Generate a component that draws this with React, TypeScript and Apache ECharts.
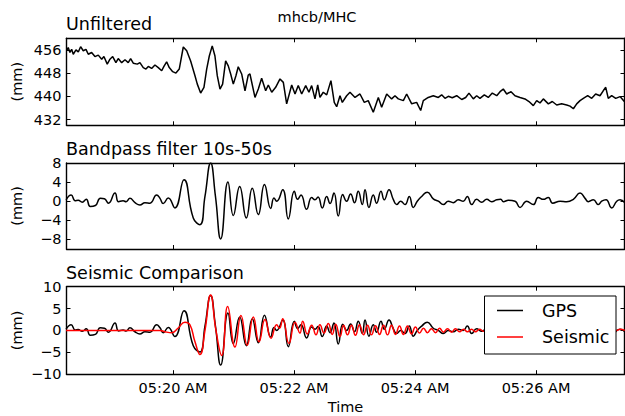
import React, { useEffect, useRef } from "react";
import * as echarts from "echarts";

// time axis: seconds after 05:00:00
const xMin = 1094.4;
const xMax = 1647.7;
const xTickValues = [1200, 1320, 1440, 1560];
const xTickLabels = ["05:20 AM", "05:22 AM", "05:24 AM", "05:26 AM"];

const topYTicks = [432, 440, 448, 456];
const topYRange = [430, 460];
const midYTicks = [-8, -4, 0, 4, 8];
const midYRange = [-10, 8];
const botYTicks = [-10, -5, 0, 5, 10];
const botYRange = [-10, 10];

const figureTitle = "mhcb/MHC";
const panelTitles = ["Unfiltered", "Bandpass filter 10s-50s", "Seismic Comparison"];
const yAxisName = "(mm)";
const xAxisName = "Time";
const legendNames = ["GPS", "Seismic"];

const unfilteredTime = [
  1094.5, 1096.1, 1097.8, 1099.5, 1101.1, 1103.8, 1106.1, 1108.4, 1111.0, 1113.7,
  1116.0, 1119.3, 1122.6, 1125.9, 1129.3, 1131.5, 1134.8, 1137.5, 1140.2, 1143.4,
  1145.7, 1149.1, 1152.4, 1155.6, 1158.0, 1160.6, 1164.6, 1167.2, 1170.5, 1173.2,
  1175.5, 1178.8, 1182.1, 1185.4, 1188.8, 1191.0, 1193.7, 1196.3, 1199.7, 1202.9,
  1206.2, 1210.2, 1213.6, 1217.5, 1221.8, 1224.1, 1227.4, 1230.7, 1233.4, 1236.0,
  1238.9, 1241.6, 1243.9, 1246.6, 1249.2, 1252.2, 1254.8, 1257.2, 1259.8, 1262.4,
  1264.7, 1268.1, 1271.4, 1274.6, 1276.3, 1281.3, 1284.6, 1287.9, 1291.9, 1294.5,
  1297.9, 1301.8, 1306.1, 1309.4, 1312.7, 1317.7, 1321.0, 1324.2, 1327.6, 1331.6,
  1334.8, 1337.5, 1340.8, 1343.5, 1345.7, 1349.0, 1352.4, 1356.6, 1359.9, 1362.3,
  1365.6, 1367.9, 1372.2, 1375.5, 1380.5, 1385.4, 1389.7, 1393.6, 1398.6, 1403.6,
  1406.9, 1411.9, 1416.8, 1420.1, 1423.4, 1428.4, 1431.7, 1436.7, 1441.6, 1445.6,
  1448.2, 1453.1, 1458.1, 1463.1, 1466.4, 1469.7, 1473.0, 1476.9, 1481.3, 1486.3,
  1490.2, 1493.5, 1497.8, 1501.1, 1504.4, 1508.7, 1512.6, 1516.6, 1521.0, 1524.3,
  1527.5, 1530.9, 1535.2, 1539.1, 1544.1, 1549.0, 1553.0, 1557.3, 1560.6, 1563.9,
  1567.2, 1572.2, 1576.1, 1580.5, 1585.4, 1590.4, 1593.7, 1597.0, 1600.3, 1603.6,
  1606.9, 1611.2, 1615.2, 1619.1, 1623.4, 1626.6, 1629.1, 1631.6, 1635.0, 1639.0,
  1643.3, 1647.5,
];
const unfilteredMm = [
  455.7, 456.8, 455.1, 456.2, 454.5, 456.0, 455.3, 457.1, 455.7, 456.2,
  454.5, 455.1, 453.7, 454.2, 452.8, 453.7, 451.1, 452.8, 453.7, 451.6,
  453.0, 451.6, 452.6, 451.6, 453.0, 451.4, 451.1, 451.6, 449.9, 449.4,
  450.3, 449.6, 450.8, 449.9, 448.8, 450.3, 451.9, 449.9, 448.5, 448.0,
  449.4, 457.0, 455.7, 452.2, 447.1, 444.2, 441.1, 443.1, 449.4, 453.9,
  457.4, 453.9, 447.1, 442.5, 444.2, 452.2, 450.5, 447.7, 444.2, 447.1,
  450.2, 447.7, 441.9, 447.3, 447.7, 439.6, 442.5, 446.2, 441.9, 443.9,
  441.4, 443.1, 446.0, 444.8, 437.4, 443.9, 440.8, 443.7, 440.8, 443.7,
  441.4, 443.7, 439.1, 443.9, 439.6, 441.4, 440.5, 445.4, 437.9, 436.4,
  440.2, 437.9, 440.2, 441.4, 439.6, 440.8, 437.9, 438.5, 434.5, 439.6,
  436.2, 440.8, 439.1, 440.2, 439.1, 438.5, 440.8, 437.4, 437.9, 435.1,
  438.5, 439.6, 440.2, 439.6, 440.5, 439.3, 440.0, 439.5, 440.2, 438.9,
  439.6, 441.1, 439.1, 440.2, 439.3, 440.5, 439.6, 441.1, 440.2, 441.6,
  442.5, 440.8, 441.6, 440.2, 439.6, 439.1, 438.2, 436.8, 438.5, 437.7,
  439.1, 437.4, 438.2, 437.0, 437.4, 437.0, 436.6, 435.7, 437.4, 438.5,
  439.3, 440.2, 439.3, 440.8, 440.2, 441.9, 443.1, 439.3, 440.2, 439.3,
  439.9, 438.2,
];

const bandpassTime = [
  1094, 1099, 1103, 1106, 1110, 1114, 1118, 1123, 1128, 1132,
  1136, 1142.5, 1146, 1150.5, 1153.5, 1157.3, 1162.3, 1167.2, 1172.2, 1177.2,
  1183.8, 1187.1, 1190.3, 1195.3, 1201.9, 1210.9, 1220.1, 1226.7, 1231.7, 1237.3,
  1242.1, 1247.3, 1254.5, 1259.8, 1266.1, 1272.7, 1278.6, 1284.6, 1290.7, 1296.9,
  1300.1, 1302.8, 1308.8, 1314.3, 1320.3, 1323.6, 1326.9, 1332.5, 1337.5, 1340.8,
  1343.8, 1348, 1352.4, 1355.7, 1359.6, 1363.9, 1368.3, 1372.2, 1376.1, 1380,
  1383.7, 1387.7, 1390.4, 1394.3, 1398.6, 1401.9, 1406.2, 1409.5, 1414.2, 1418.4,
  1421.8, 1425.8, 1430.1, 1434.3, 1438.3, 1442.2, 1446.6, 1452.1, 1458.1, 1463.1,
  1468, 1473, 1477.9, 1482.9, 1487.8, 1491.8, 1496.2, 1501.1, 1506.1, 1511.1,
  1516, 1521, 1525, 1527.6, 1532.6, 1539.2, 1544.1, 1550.7, 1557.3, 1562.2,
  1567.2, 1572.1, 1576.5, 1583.8, 1590.4, 1597, 1603.6, 1608.6, 1611.8, 1616.8,
  1621.8, 1625.1, 1629.4, 1635, 1640, 1643.3, 1648,
];
const bandpassMm = [
  0.3, 1.3, 0.1, 0.2, -0.2, 0.4, -1.1, -0.9, 0.6, 0.5,
  -0.4, 1.7, -0.1, 0.1, -0.1, 0.6, -0.3, -0.8, -0.3, -0.4,
  1.3, 0.6, -0.5, 0.7, -1.4, 4.5, -3.5, -4.9, 1.0, 8.0,
  1.0, -7.9, 4.0, -3.0, 3.1, -3.5, 2.7, -2.8, 3.5, -1.5,
  0.7, 0.0, 2.4, -3.7, 2.1, 0.4, 1.3, -1.7, 0.8, 0.3,
  0.9, -1.4, 1.0, -0.5, 1.7, -3.1, 1.4, 0.0, 1.5, -0.3,
  2.1, -0.7, 2.4, -1.3, 1.3, -0.4, 2.1, 0.3, 2.4, 0.4,
  -0.7, 0.0, -0.7, 1.0, -1.3, 0.0, 1.0, 1.9, 0.5, 0.0,
  -0.7, 0.0, -0.3, 0.3, 0.0, 1.0, -0.7, 0.4, -0.2, 0.4,
  -0.1, 0.3, 0.4, -0.1, 0.2, 0.0, -1.3, 0.0, -0.7, 0.8,
  0.4, 0.8, -0.4, 0.0, -0.1, 0.4, 1.7, 0.6, -0.1, 0.3,
  -0.7, 0.0, 0.3, -1.4, 0.0, 0.3, -0.3,
];

const seismicTime = [
  1094, 1187.1, 1192.0, 1199.0, 1204.9, 1211.9, 1216.8, 1221.8, 1226.7, 1231.7,
  1237.3, 1242.6, 1248.3, 1254.2, 1261.5, 1267.4, 1273.6, 1279.6, 1285.3, 1291.2,
  1297.2, 1302.8, 1305.6, 1308.8, 1315.0, 1321.0, 1325.9, 1328.6, 1333.2, 1337.5,
  1341.8, 1345.7, 1349.7, 1354.0, 1357.9, 1361.3, 1365.6, 1369.1, 1373.0, 1377.0,
  1380.9, 1384.9, 1388.9, 1392.9, 1396.8, 1400.8, 1404.8, 1408.7, 1412.7, 1416.7,
  1420.6, 1424.6, 1428.5, 1432.5, 1436.5, 1440.4, 1444.4, 1448.4, 1452.3, 1456.3,
  1460.3, 1464.3, 1468.2, 1472.2, 1476.2, 1480.1, 1484.1, 1488.1, 1492.0, 1496.0,
  1500.0, 1503.9, 1508.4, 1524.3, 1544.1, 1563.9, 1583.8, 1603.6, 1623.4, 1640,
  1643.3, 1648,
];
const seismicMm = [
  0, 0, -0.3, -0.5, 0.5, 1.9, 1.3, -2.6, -5.5, 0.0,
  8.1, 0.0, -5.7, 5.5, -3.8, 3.4, -3.4, 3.1, -2.6, 2.5,
  -1.8, 1.3, 0.5, 2.7, -3.0, 1.9, -0.6, 2.1, -0.8, 1.2,
  -1.0, 1.3, -0.6, 1.6, -0.9, 1.4, -1.4, 1.2, -1.0, 1.2,
  -1.1, 1.3, -1.0, 1.2, -1.0, 1.1, -0.9, 1.2, -1.0, 1.2,
  -0.9, 1.0, -0.9, 1.0, -0.8, 0.8, -0.6, 0.5, -0.5, 0.4,
  -0.5, 0.5, -0.4, 0.4, -0.4, 0.4, -0.3, 0.3, -0.3, 0.3,
  -0.3, 0.3, -0.2, 0.2, -0.2, 0.1, -0.1, 0.1, 0.0, 0.0,
  0.3, 0.0,
];

const FONT = "DejaVu Sans";
const TICK_FS = 14.5;
const TITLE_FS = 17.5;

const pairs = (ts: number[], vs: number[]) => ts.map((t, i) => [t, vs[i]]);
const fmtNum = (v: number) => String(v).replace("-", "\u2212");

const grids = [
  { left: 66.5, top: 38.3, width: 558, height: 87 },
  { left: 66.5, top: 163, width: 558, height: 86 },
  { left: 66.5, top: 286.7, width: 558, height: 87.5 },
];

function makeXAxes(gi: number, showLabels: boolean) {
  const common = {
    type: "value",
    gridIndex: gi,
    min: xMin,
    max: xMax,
    splitLine: { show: false },
    axisLine: { show: true, onZero: false, lineStyle: { color: "#000", width: 1.4 } },
    axisTick: { show: true, inside: true, length: 4, customValues: xTickValues, lineStyle: { color: "#000", width: 1 } },
  };
  return [
    {
      ...common,
      position: "bottom",
      axisLabel: {
        show: showLabels,
        customValues: xTickValues,
        formatter: (v: number) => {
          const i = xTickValues.indexOf(v);
          return i >= 0 ? xTickLabels[i] : "";
        },
        color: "#000",
        fontFamily: FONT,
        fontSize: TICK_FS,
        margin: 6,
      },
    },
    { ...common, position: "top", axisLabel: { show: false } },
  ];
}

function makeYAxes(gi: number, range: number[], ticks: number[]) {
  const common = {
    type: "value",
    gridIndex: gi,
    min: range[0],
    max: range[1],
    splitLine: { show: false },
    axisLine: { show: true, onZero: false, lineStyle: { color: "#000", width: 1.4 } },
    axisTick: { show: true, inside: true, length: 4, customValues: ticks, lineStyle: { color: "#000", width: 1 } },
  };
  return [
    {
      ...common,
      position: "left",
      axisLabel: {
        show: true,
        customValues: ticks,
        formatter: (v: number) => fmtNum(v),
        color: "#000",
        fontFamily: FONT,
        fontSize: TICK_FS,
        margin: 5,
      },
    },
    { ...common, position: "right", axisLabel: { show: false } },
  ];
}

export default function App() {
  const ref = useRef<HTMLDivElement>(null);
  useEffect(() => {
    if (!ref.current) return;
    const chart = echarts.init(ref.current, undefined, { renderer: "svg" });
    const lineBase = {
      type: "line",
      showSymbol: false,
      symbol: "none",
      silent: true,
      clip: true,
    };
    const titleText = (text: string, x: number, y: number) => ({
      type: "text",
      x,
      y,
      style: { text, fill: "#000", fontFamily: FONT, fontSize: TITLE_FS, align: "left", verticalAlign: "middle" },
    });
    const mmText = (y: number) => ({
      type: "text",
      x: 17,
      y,
      rotation: Math.PI / 2,
      style: { text: yAxisName, fill: "#000", fontFamily: FONT, fontSize: TICK_FS, align: "center", verticalAlign: "middle" },
    });
    chart.setOption({
      animation: false,
      backgroundColor: "#fff",
      grid: grids,
      xAxis: [...makeXAxes(0, false), ...makeXAxes(1, false), ...makeXAxes(2, true)],
      yAxis: [
        ...makeYAxes(0, topYRange, topYTicks),
        ...makeYAxes(1, midYRange, midYTicks),
        ...makeYAxes(2, botYRange, botYTicks),
      ],
      series: [
        {
          ...lineBase,
          name: "Unfiltered",
          xAxisIndex: 0,
          yAxisIndex: 0,
          data: pairs(unfilteredTime, unfilteredMm),
          lineStyle: { color: "#000", width: 1.5 },
          itemStyle: { color: "#000" },
        },
        {
          ...lineBase,
          name: "Bandpass",
          xAxisIndex: 2,
          yAxisIndex: 2,
          smooth: 0.5,
          data: pairs(bandpassTime, bandpassMm),
          lineStyle: { color: "#000", width: 1.5 },
          itemStyle: { color: "#000" },
        },
        {
          ...lineBase,
          name: legendNames[0],
          xAxisIndex: 4,
          yAxisIndex: 4,
          smooth: 0.5,
          data: pairs(bandpassTime, bandpassMm),
          lineStyle: { color: "#000", width: 1.5 },
          itemStyle: { color: "#000" },
        },
        {
          ...lineBase,
          name: legendNames[1],
          xAxisIndex: 4,
          yAxisIndex: 4,
          smooth: 0.5,
          data: pairs(seismicTime, seismicMm),
          lineStyle: { color: "#ff0000", width: 1.5 },
          itemStyle: { color: "#ff0000" },
        },
      ],
      graphic: [
        {
          type: "text",
          x: 317,
          y: 17,
          style: { text: figureTitle, fill: "#000", fontFamily: FONT, fontSize: TICK_FS, align: "center", verticalAlign: "middle" },
        },
        titleText(panelTitles[0], 66, 24),
        titleText(panelTitles[1], 66, 148.5),
        titleText(panelTitles[2], 66, 273),
        mmText(81.7),
        mmText(206),
        mmText(330.5),
        {
          type: "text",
          x: 345.5,
          y: 407,
          style: { text: xAxisName, fill: "#000", fontFamily: FONT, fontSize: TICK_FS, align: "center", verticalAlign: "middle" },
        },
        {
          type: "group",
          z: 100,
          children: [
            {
              type: "rect",
              z: 100,
              shape: { x: 484.5, y: 296, width: 131.5, height: 58 },
              style: { fill: "#fff", stroke: "#000", lineWidth: 1 },
            },
            {
              type: "line",
              z: 101,
              shape: { x1: 497, y1: 310.5, x2: 523, y2: 310.5 },
              style: { stroke: "#000", lineWidth: 1.5 },
            },
            {
              type: "line",
              z: 101,
              shape: { x1: 497, y1: 337, x2: 523, y2: 337 },
              style: { stroke: "#ff0000", lineWidth: 1.5 },
            },
            {
              type: "text",
              z: 101,
              x: 542,
              y: 311,
              style: { text: legendNames[0], fill: "#000", fontFamily: FONT, fontSize: TITLE_FS, align: "left", verticalAlign: "middle" },
            },
            {
              type: "text",
              z: 101,
              x: 542,
              y: 337,
              style: { text: legendNames[1], fill: "#000", fontFamily: FONT, fontSize: TITLE_FS, align: "left", verticalAlign: "middle" },
            },
          ],
        },
      ],
    });
    return () => chart.dispose();
  }, []);
  return (
    <div
      ref={ref}
      style={{ position: "absolute", left: 0, top: 0, width: 625, height: 416, background: "#fff" }}
    />
  );
}
